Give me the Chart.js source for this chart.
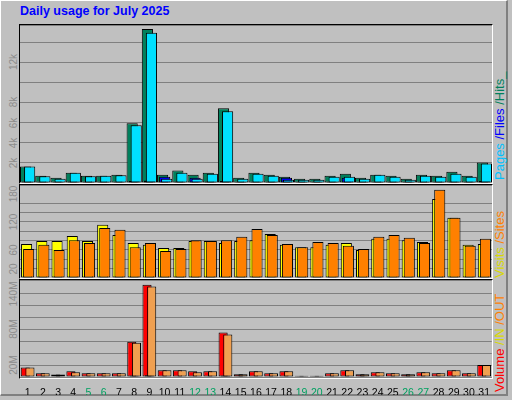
<!DOCTYPE html>
<html lang="en">
<head>
<meta charset="UTF-8">
<title>Daily usage for July 2025</title>
<script src="https://cdn.jsdelivr.net/npm/chart.js"></script>
<style>
  html,body{margin:0;padding:0;}
  body{width:512px;height:400px;background:#c0c0c0;position:relative;overflow:hidden;font-family:"Liberation Sans",Arial,sans-serif;}
  .frame{position:absolute;left:0;top:0;width:505px;height:393px;border-right:2px solid #808080;border-bottom:2px solid #808080;border-top:1px solid #fff;border-left:1px solid #fff;}
  #title{position:absolute;left:20px;top:4px;font-weight:bold;font-size:12.5px;color:#0000ff;}
  .panel{position:absolute;left:19px;width:472px;border-top:1px solid #000;border-left:1px solid #000;border-right:1px solid #fff;border-bottom:1px solid #fff;}
  canvas{position:absolute;left:0;top:0;}
  .leg{position:absolute;white-space:nowrap;transform-origin:left top;transform:rotate(-90deg);font-size:13px;}
  .yl{position:absolute;white-space:nowrap;transform:translate(-50%,-50%) rotate(-90deg);font-size:10px;color:#8c8c8c;left:13px;}
</style>
</head>
<body>
<div class="frame"></div>
<div id="title">Daily usage for July 2025</div>

<div class="panel" style="top:24px;height:158px"><canvas id="c1"></canvas></div>
<div class="panel" style="top:184px;height:93px"><canvas id="c2"></canvas></div>
<div class="panel" style="top:279px;height:98px"></div>
<canvas id="c3" style="left:20px;top:280px"></canvas>

<div class="leg" style="left:492px;top:180px"><span style="color:#00c0ff">Pages</span> <span style="color:#0000ff">/Files</span> <span style="color:#00805c">/Hits_</span></div>
<div class="leg" style="left:492px;top:278px"><span style="color:#d8d800">Visits</span> <span style="color:#ff8000">/Sites</span></div>
<div class="leg" style="left:492px;top:392px"><span style="color:#ff0000">Volume</span> <span style="color:#d8d800">/IN</span> <span style="color:#ff8000">/OUT</span></div>

<script>
/* ——— DATA ——— */
const days = Array.from({length:31},(_,i)=>String(i+1));
const weekend = ['5','6','12','13','19','20','26','27'];

// thousands
const hits  = [1.63,0.73,0.53,1.03,0.73,0.73,0.83,5.93,15.3,0.83,1.23,0.83,1.03,7.43,0.53,1.03,0.83,0.63,0.43,0.43,0.73,0.93,0.53,0.83,0.73,0.43,0.83,0.73,1.13,0.73,2.03];
const pages = [1.63,0.67,0.43,1.03,0.67,0.73,0.77,5.73,14.93,0.43,1.03,0.43,0.93,7.13,0.43,0.93,0.73,0.33,0.33,0.33,0.63,0.63,0.43,0.83,0.63,0.33,0.73,0.63,0.93,0.63,1.93];
const files = [0.15,0.12,0.1,0.15,0.12,0.12,0.12,0.2,0.25,0.63,0.15,0.53,0.15,0.2,0.1,0.12,0.12,0.53,0.1,0.1,0.12,0.53,0.1,0.12,0.12,0.1,0.12,0.12,0.15,0.12,0.2];

const visits = [73,79,79,90,79,114,92,75,71,64,64,79,79,75,79,81,94,71,66,66,71,75,60,84,84,81,77,169,129,71,73];
const sites  = [62,71,60,81,75,107,103,66,75,58,62,81,79,81,88,105,92,73,66,77,75,69,62,88,92,86,75,189,129,69,84];

// MB
const volume = [16,6.3,4,9.7,6.3,6.3,6.3,59.4,155,11.4,11.4,9.7,9.7,74.9,4.6,9.7,6.3,9.7,2.3,2.3,6.3,11.4,4.6,8,6.3,4.6,8,6.3,11.4,6.3,20];
const volIn  = [1,0.8,0.6,1,0.8,0.8,0.8,2.5,3,1,1,1,1,2.5,0.6,1,0.8,1,0.4,0.4,0.8,1,0.6,0.8,0.8,0.6,0.8,0.8,1,0.8,1.2];
const volOut = [16,6.3,4,8,6.3,6.3,6.3,57.7,152,11.4,11.4,8,9.7,71.4,4.6,9.7,6.3,9.7,2.3,2.3,6.3,11.4,4.6,8,6.3,4.6,8,6.3,11.4,6.3,20];

const labels1 = [2,4,6,8,12], labels2 = [20,60,120,180], labels3 = [20,80,140];

/* ——— HELPERS ——— */
// draw first dataset first so the later (right-shifted) bars sit on top
const backToFront = {
  id:'backToFront',
  beforeDatasetsDraw(chart){
    chart.getSortedVisibleDatasetMetas().forEach(m=>m.controller.draw());
    return false;
  }
};
function ds(data,color,cat,bar){
  return {data,backgroundColor:color,borderColor:'#000',borderWidth:1,borderSkipped:false,
    categoryPercentage:cat,barPercentage:bar};
}
function opts(max,step,withX){
  return {
    responsive:false,animation:false,
    layout:{padding:0},
    plugins:{legend:{display:false},tooltip:{enabled:false}},
    scales:{
      x:{display:withX,grid:{display:false},border:{display:false},
         ticks:{padding:2,autoSkip:false,maxRotation:0,font:{size:10.5,family:'Liberation Sans'},
                color:c=>weekend.includes(days[c.index])?'#00a060':'#000'},
         afterFit:s=>{s.height=withX?18:0;}},
      y:{min:0,max,grid:{color:'#808080',drawTicks:false},border:{display:false},
         ticks:{display:false,stepSize:step},afterFit:s=>{s.width=0;}}
    }
  };
}
function yLabels(chart,vals,fmt,offset){
  const y=chart.scales.y;
  vals.forEach(v=>{
    const d=document.createElement('div');
    d.className='yl';d.textContent=fmt(v);
    d.style.top=(offset+y.getPixelForValue(v))+'px';
    document.body.appendChild(d);
  });
}

/* ——— CHARTS ——— */
const c1=document.getElementById('c1');c1.width=472;c1.height=158;
const ch1=new Chart(c1,{type:'bar',data:{labels:days,datasets:[
  ds(hits,'#00805c',0.4,5.5), ds(files,'#0000ff',0.4,5.5), ds(pages,'#00e0ff',0.4,5.5)
]},options:opts(15.7,2,false),plugins:[backToFront]});
yLabels(ch1,labels1,v=>v+'k',25);

const c2=document.getElementById('c2');c2.width=472;c2.height=93;
const ch2=new Chart(c2,{type:'bar',data:{labels:days,datasets:[
  ds(visits,'#ffff00',0.27,5.4), ds(sites,'#ff8000',0.27,5.4)
]},options:opts(199,20,false),plugins:[backToFront]});
yLabels(ch2,labels2,v=>String(v),185);

const c3=document.getElementById('c3');c3.width=472;c3.height=115;
const ch3=new Chart(c3,{type:'bar',data:{labels:days,datasets:[
  ds(volume,'#ff0000',0.46,3.9), ds(volIn,'#ffff00',0.46,3.9), ds(volOut,'#f0a050',0.46,3.9)
]},options:opts(163,20,true),plugins:[backToFront]});
yLabels(ch3,labels3,v=>v+'M',280);
</script>
</body>
</html>
